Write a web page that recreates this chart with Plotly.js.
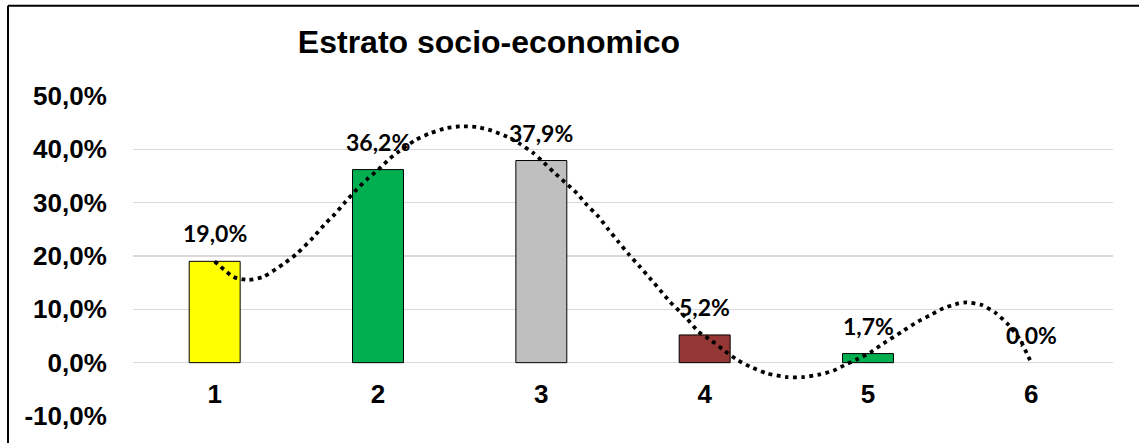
<!DOCTYPE html>
<html>
<head>
<meta charset="utf-8">
<script src="https://cdn.plot.ly/plotly-3.0.1.min.js"></script>
<style>
  html, body { margin: 0; padding: 0; background: #ffffff; }
  #chart { width: 1139px; height: 443px; }
</style>
</head>
<body>
<div id="chart"></div>
<script>
// ---- data ----
const categories = [1, 2, 3, 4, 5, 6];
const tickLabels = ['1', '2', '3', '4', '5', '6'];
const values = [19.0, 36.2, 37.9, 5.2, 1.7, 0.0];
const barColors = ['#FFFF00', '#00B050', '#BFBFBF', '#953735', '#00B050', '#00B050'];
const barBorderWidths = [1, 1, 1, 1, 1, 0];

const yTickVals = [-10, 0, 10, 20, 30, 40, 50];
const yTickLabels = ['-10,0%', '0,0%', '10,0%', '20,0%', '30,0%', '40,0%', '50,0%'];

// dotted trend curve
const trendX = [1.000, 1.114, 1.206, 1.298, 1.420, 1.502, 1.604, 1.669, 1.737, 1.802, 1.870, 1.937,
                2.002, 2.073, 2.115, 2.227, 2.318, 2.421, 2.502, 2.604, 2.696, 2.788, 2.870, 2.951,
                3.002, 3.073, 3.145, 3.217, 3.278, 3.349, 3.410, 3.471, 3.533, 3.600, 3.666, 3.727,
                3.788, 3.890, 3.962, 4.043, 4.114, 4.196, 4.278, 4.380, 4.503, 4.604, 4.707, 4.788,
                4.870, 4.931, 5.013, 5.094, 5.207, 5.288, 5.380, 5.462, 5.554, 5.605, 5.697, 5.778,
                5.860, 5.931, 5.982, 6.000];
const trendY = [19.0, 16.1, 15.5, 16.1, 18.5, 20.4, 23.5, 25.8, 27.9, 30.2, 32.5, 34.5,
                36.2, 38.3, 39.3, 41.7, 43.0, 44.0, 44.3, 44.2, 43.5, 42.4, 41.0, 39.3,
                37.9, 35.8, 33.8, 31.8, 29.6, 27.4, 25.0, 22.7, 20.4, 18.1, 15.8, 13.6,
                11.4, 8.3, 5.8, 4.1, 2.4, 0.6, -0.75, -2.0, -2.7, -2.7, -2.2, -1.5,
                -0.25, 0.6, 1.9, 3.6, 5.8, 7.4, 8.9, 10.2, 11.1, 11.3, 10.8, 9.4,
                7.1, 4.3, 1.1, 0.0];

function fmt(v) { return v.toFixed(1).replace('.', ',') + '%'; }

const bars = {
  type: 'bar',
  x: categories,
  y: values,
  width: 0.312,
  marker: { color: barColors, line: { color: '#000000', width: barBorderWidths } },
  hoverinfo: 'skip',
  showlegend: false
};

const trend = {
  type: 'scatter',
  mode: 'lines',
  x: trendX,
  y: trendY,
  line: { color: '#000000', width: 3.8, dash: '3.8px,4.4px', shape: 'spline', smoothing: 0.6 },
  hoverinfo: 'skip',
  showlegend: false
};

const labelAnnotations = categories.map((c, i) => ({
  x: c, y: values[i], xref: 'x', yref: 'y',
  text: fmt(values[i]),
  showarrow: false,
  xanchor: 'center', yanchor: 'bottom', yshift: 12,
  font: { family: 'Lato, "Liberation Sans", Arial, sans-serif', size: 23, weight: 'bold', color: '#000000' }
}));

function px2paperX(px) { return (px - 133) / 980; }
function px2paperY(py) { return (416 - py) / 319.8; }

const layout = {
  width: 1139,
  height: 443,
  margin: { l: 133, r: 26, t: 96.2, b: 27, pad: 0 },
  paper_bgcolor: '#ffffff',
  plot_bgcolor: '#ffffff',
  separators: ',.',
  title: {
    text: 'Estrato socio-economico',
    x: 489 / 1139, xref: 'container', xanchor: 'center',
    y: 1 - 42 / 443, yref: 'container', yanchor: 'middle',
    font: { family: '"Liberation Sans", Arial, sans-serif', size: 32, weight: 'bold', color: '#000000' }
  },
  xaxis: {
    type: 'linear',
    range: [0.5, 6.5],
    tickmode: 'array',
    tickvals: categories,
    ticktext: tickLabels,
    anchor: 'free',
    position: 1 / 6,
    showgrid: false,
    zeroline: false,
    showline: false,
    ticks: 'outside',
    ticklen: 8,
    tickcolor: 'rgba(0,0,0,0)',
    tickfont: { family: '"Liberation Sans", Arial, sans-serif', size: 26, weight: 'bold', color: '#000000' },
    automargin: false,
    fixedrange: true
  },
  yaxis: {
    range: [-10, 50],
    tickmode: 'array',
    tickvals: yTickVals,
    ticktext: yTickLabels,
    showgrid: true,
    gridcolor: '#D9D9D9',
    gridwidth: 1.5,
    zeroline: true,
    zerolinecolor: '#D9D9D9',
    zerolinewidth: 1.5,
    showline: false,
    ticks: 'outside',
    ticklen: 20,
    tickcolor: 'rgba(0,0,0,0)',
    tickfont: { family: '"Liberation Sans", Arial, sans-serif', size: 26, weight: 'bold', color: '#000000' },
    automargin: false,
    fixedrange: true
  },
  annotations: labelAnnotations,
  shapes: [
    { type: 'line', xref: 'paper', yref: 'paper', x0: px2paperX(8), x1: px2paperX(1150), y0: px2paperY(6), y1: px2paperY(6),
      line: { color: '#000000', width: 2 } },
    { type: 'line', xref: 'paper', yref: 'paper', x0: px2paperX(8), x1: px2paperX(8), y0: px2paperY(6), y1: px2paperY(460),
      line: { color: '#000000', width: 2 } }
  ],
  showlegend: false
};

Plotly.newPlot('chart', [bars, trend], layout, { displayModeBar: false, staticPlot: true });
</script>
</body>
</html>
